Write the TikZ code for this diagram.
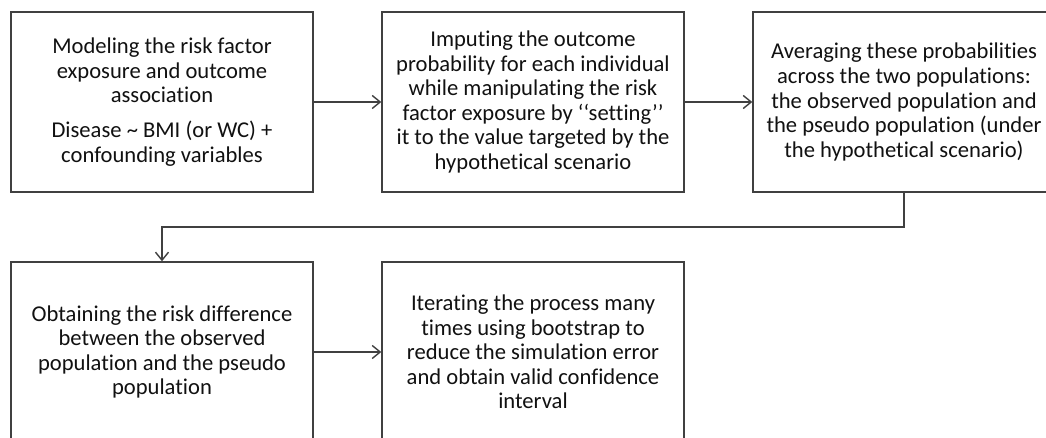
\documentclass[tikz,border=0pt]{standalone}
\usepackage{fontspec}
\setmainfont{Carlito}[Ligatures=NoCommon]
\usetikzlibrary{arrows.meta}
\definecolor{edge}{HTML}{404040}
\definecolor{ink}{HTML}{111111}
\tikzset{
  stepbox/.style={draw=edge, line width=1.4pt, minimum width=302pt, minimum height=180pt,
    inner sep=0pt, align=center, text=ink,
    font=\fontsize{22.6}{24.6}\selectfont},
  conn/.style={draw=edge, line width=1.4pt, -{Straight Barb[length=8pt,width=13pt,line width=1.4pt]}}
}
\begin{document}
\begin{tikzpicture}[x=1pt,y=-1pt]
\path[use as bounding box] (0,0) rectangle (1046,438);
\clip (0,0) rectangle (1046,438);
\fill[white] (0,0) rectangle (1046,438);
\node[stepbox] (b1) at (162,102) {Modeling the risk factor\\exposure and outcome\\association\\[10pt]Disease \textasciitilde{} BMI (or WC) +\\confounding variables};
\node[stepbox] (b2) at (533,102) {Imputing the outcome\\probability for each individual\\while manipulating the risk\\factor exposure by ‘‘setting’’\\it to the value targeted by the\\hypothetical scenario};
\node[stepbox] (b3) at (904,102) {Averaging these probabilities\\across the two populations:\\the observed population and\\the pseudo population (under\\the hypothetical scenario)};
\node[stepbox] (b4) at (162,352) {Obtaining the risk difference\\between the observed\\population and the pseudo\\population};
\node[stepbox] (b5) at (533,352) {Iterating the process many\\times using bootstrap to\\reduce the simulation error\\and obtain valid confidence\\interval};
\coordinate (t1) at (904,227);
\coordinate (t2) at (162,227);
\draw[conn] (b1.east) -- (b2.west);
\draw[conn] (b2.east) -- (b3.west);
\draw[conn] (b3.south) -- (t1) -- (t2) -- (b4.north);
\draw[conn] (b4.east) -- (b5.west);
\end{tikzpicture}
\end{document}
